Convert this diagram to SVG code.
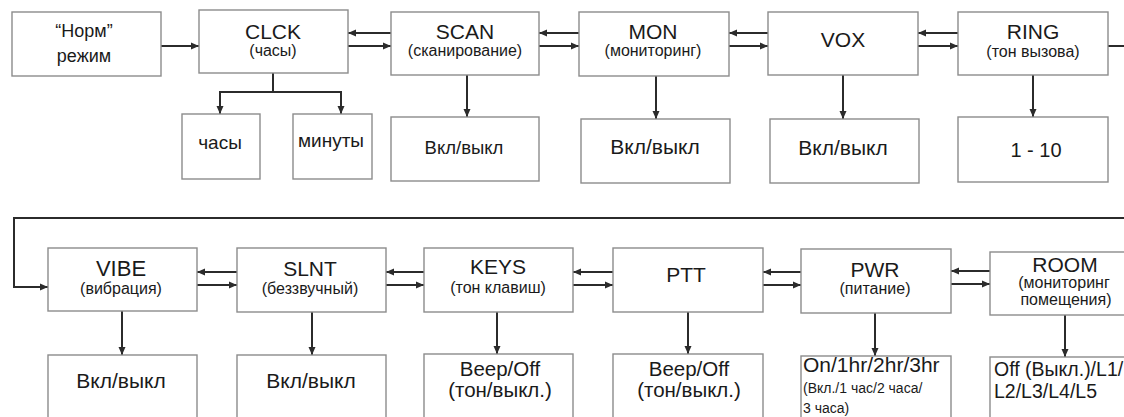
<svg xmlns="http://www.w3.org/2000/svg" width="1124" height="417" viewBox="0 0 1124 417">
<defs>
<style>
.box{fill:#fff;stroke:#8c8c8c;stroke-width:1.4}
.ln{fill:none;stroke:#2b2b2b;stroke-width:2}
.ar{fill:none;stroke:#2b2b2b;stroke-width:2;marker-end:url(#ah)}
text{font-family:"Liberation Sans",Arial,sans-serif;fill:#1a1a1a;text-anchor:middle}
.t{font-size:21px}
.s{font-size:16px}
.v{font-size:21px}
.l{text-anchor:start}
</style>
<marker id="ah" markerUnits="userSpaceOnUse" markerWidth="9" markerHeight="8" refX="8" refY="4" orient="auto">
<path d="M0,0.5 L8,4 L0,7.5 Z" fill="#2b2b2b"/>
</marker>
</defs>
<rect width="1124" height="417" fill="#fff"/>

<g id="connectors">
<line class="ar" x1="161" y1="46" x2="199" y2="46"/>
<line class="ar" x1="391" y1="33" x2="348" y2="33"/>
<line class="ar" x1="348" y1="46" x2="391" y2="46"/>
<line class="ar" x1="579" y1="33" x2="539" y2="33"/>
<line class="ar" x1="539" y1="46" x2="579" y2="46"/>
<line class="ar" x1="768" y1="33" x2="729" y2="33"/>
<line class="ar" x1="729" y1="46" x2="768" y2="46"/>
<line class="ar" x1="958" y1="33" x2="918" y2="33"/>
<line class="ar" x1="918" y1="46" x2="958" y2="46"/>
<line class="ln" x1="1108" y1="46" x2="1124" y2="46"/>
<polyline class="ln" points="1124,218 14,218 14,287 40,287"/>
<line class="ar" x1="14" y1="287" x2="48" y2="287"/>
<line class="ar" x1="237" y1="272" x2="197" y2="272"/>
<line class="ar" x1="197" y1="285" x2="237" y2="285"/>
<line class="ar" x1="424" y1="272" x2="386" y2="272"/>
<line class="ar" x1="386" y1="285" x2="424" y2="285"/>
<line class="ar" x1="613" y1="272" x2="573" y2="272"/>
<line class="ar" x1="573" y1="285" x2="613" y2="285"/>
<line class="ar" x1="801" y1="272" x2="763" y2="272"/>
<line class="ar" x1="763" y1="285" x2="801" y2="285"/>
<line class="ar" x1="990" y1="271" x2="951" y2="271"/>
<line class="ar" x1="951" y1="284" x2="990" y2="284"/>
<polyline class="ln" points="273,73 273,92"/>
<polyline class="ar" points="273,92 220,92 220,114"/>
<polyline class="ar" points="273,92 341,92 341,114"/>
<line class="ar" x1="467" y1="75" x2="467" y2="117"/>
<line class="ar" x1="656" y1="76" x2="656" y2="119"/>
<line class="ar" x1="843" y1="75" x2="843" y2="119"/>
<line class="ar" x1="1033" y1="75" x2="1033" y2="117"/>
<line class="ar" x1="122" y1="311" x2="122" y2="355"/>
<line class="ar" x1="312" y1="312" x2="312" y2="355"/>
<line class="ar" x1="497" y1="312" x2="497" y2="354"/>
<line class="ar" x1="688" y1="312" x2="688" y2="354"/>
<line class="ar" x1="875" y1="313" x2="875" y2="356"/>
<line class="ar" x1="1065" y1="315" x2="1065" y2="357"/>
</g>

<g id="norm"><rect class="box" x="12" y="12" width="149" height="64"/>
<text class="t" x="84" y="37" style="font-size:18px">“Норм”</text>
<text class="t" x="84" y="62" style="font-size:18px">режим</text></g>
<g id="clck"><rect class="box" x="199" y="10" width="149" height="63"/>
<text class="t" x="273" y="39">CLCK</text><text class="s" x="273" y="56">(часы)</text></g>
<g id="hours"><rect class="box" x="182" y="114" width="78" height="65"/>
<text x="220" y="149" style="font-size:19px">часы</text></g>
<g id="minutes"><rect class="box" x="293" y="114" width="79" height="65"/>
<text x="331" y="147" style="font-size:19px">минуты</text></g>
<g id="scan"><rect class="box" x="391" y="12" width="148" height="63"/>
<text class="t" x="465" y="39">SCAN</text><text class="s" x="465" y="56">(сканирование)</text></g>
<g id="scan-val"><rect class="box" x="391" y="117" width="148" height="64"/>
<text x="464" y="154" style="font-size:18.5px">Вкл/выкл</text></g>
<g id="mon"><rect class="box" x="579" y="12" width="150" height="64"/>
<text class="t" x="653" y="39">MON</text><text class="s" x="653" y="56">(мониторинг)</text></g>
<g id="mon-val"><rect class="box" x="581" y="119" width="149" height="64"/>
<text class="v" x="655" y="154">Вкл/выкл</text></g>
<g id="vox"><rect class="box" x="768" y="12" width="150" height="63"/>
<text class="t" x="843" y="47">VOX</text></g>
<g id="vox-val"><rect class="box" x="770" y="119" width="149" height="64"/>
<text class="v" x="843" y="155">Вкл/выкл</text></g>
<g id="ring"><rect class="box" x="958" y="12" width="150" height="63"/>
<text class="t" x="1033" y="39">RING</text><text class="s" x="1033" y="57">(тон вызова)</text></g>
<g id="ring-val"><rect class="box" x="958" y="117" width="150" height="65"/>
<text x="1036" y="157" style="font-size:20px">1 - 10</text></g>

<g id="vibe"><rect class="box" x="48" y="248" width="149" height="63"/>
<text class="t" x="121" y="276" style="font-size:22px">VIBE</text><text class="s" x="121" y="294">(вибрация)</text></g>
<g id="vibe-val"><rect class="box" x="48" y="355" width="149" height="75"/>
<text class="v" x="121" y="388">Вкл/выкл</text></g>
<g id="slnt"><rect class="box" x="237" y="248" width="149" height="64"/>
<text class="t" x="310" y="276">SLNT</text><text class="s" x="310" y="294">(беззвучный)</text></g>
<g id="slnt-val"><rect class="box" x="237" y="355" width="149" height="75"/>
<text class="v" x="311" y="388">Вкл/выкл</text></g>
<g id="keys"><rect class="box" x="424" y="248" width="149" height="64"/>
<text class="t" x="498" y="274">KEYS</text><text class="s" x="498" y="293">(тон клавиш)</text></g>
<g id="keys-val"><rect class="box" x="424" y="354" width="149" height="76"/>
<text x="500" y="376" style="font-size:20.5px">Beep/Off</text><text x="500" y="397" style="font-size:20.5px">(тон/выкл.)</text></g>
<g id="ptt"><rect class="box" x="613" y="248" width="150" height="64"/>
<text class="t" x="686" y="282">PTT</text></g>
<g id="ptt-val"><rect class="box" x="613" y="354" width="150" height="76"/>
<text x="689" y="376" style="font-size:20.5px">Beep/Off</text><text x="689" y="397" style="font-size:20.5px">(тон/выкл.)</text></g>
<g id="pwr"><rect class="box" x="801" y="249" width="150" height="64"/>
<text class="t" x="875" y="277">PWR</text><text class="s" x="875" y="294">(питание)</text></g>
<g id="pwr-val"><rect class="box" x="801" y="356" width="150" height="74"/>
<text class="l" x="803" y="372" style="font-size:21px">On/1hr/2hr/3hr</text>
<text class="l" x="803" y="393" style="font-size:14px">(Вкл./1 час/2 часа/</text>
<text class="l" x="803" y="413" style="font-size:14px">3 часа)</text></g>
<g id="room"><rect class="box" x="990" y="252" width="150" height="63"/>
<text class="t" x="1065" y="272">ROOM</text><text class="s" x="1064" y="288">(мониторинг</text><text class="s" x="1066" y="305">помещения)</text></g>
<g id="room-val"><rect class="box" x="990" y="357" width="150" height="73"/>
<text class="l" x="994" y="376" style="font-size:19.5px">Off (Выкл.)/L1/</text>
<text class="l" x="994" y="398" style="font-size:19.5px">L2/L3/L4/L5</text></g>
</svg>
